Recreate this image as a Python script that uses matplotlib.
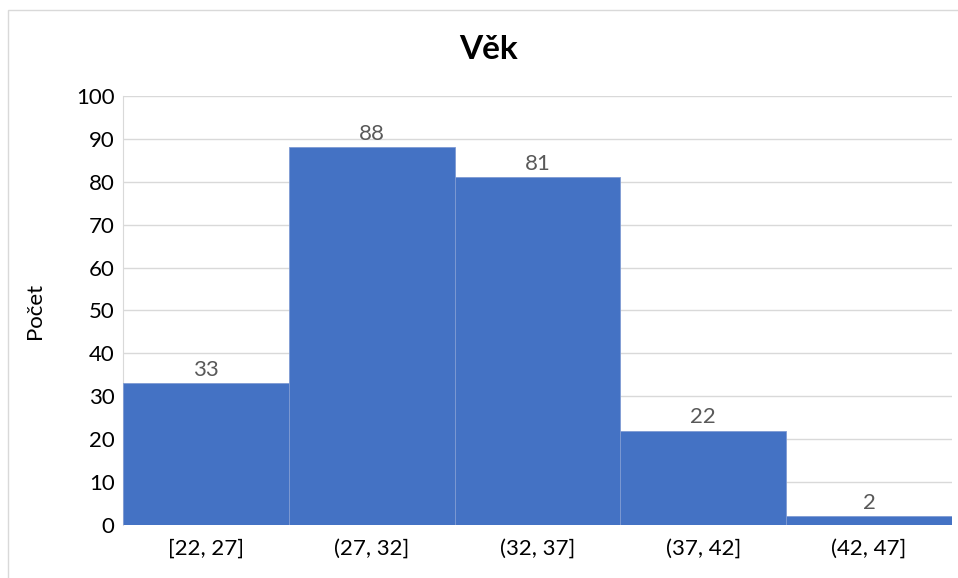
import matplotlib.pyplot as plt
from matplotlib.patches import Rectangle

categories = ['[22, 27]', '(27, 32]', '(32, 37]', '(37, 42]', '(42, 47]']
counts = [33, 88, 81, 22, 2]

plt.rcParams['font.family'] = ['Lato', 'DejaVu Sans']

fig = plt.figure(figsize=(9.58, 5.78), dpi=100)
ax = fig.add_axes([0.1284, 0.0917, 0.8653, 0.7423])

# frame of the chart area
fig.patches.append(Rectangle((8 / 958, -0.05), 1.1, 1 - 10 / 578 + 0.05, transform=fig.transFigure,
                             fill=False, edgecolor='#d9d9d9', linewidth=1))

x = range(len(categories))
bars = ax.bar(x, counts, width=1.0, color='#4472c4', edgecolor='#7f9bd3', linewidth=0.6, zorder=3)
for i, v in enumerate(counts):
    ax.text(i, v + 0.8, str(v), ha='center', va='bottom', fontsize=16, color='#595959')

ax.set_xlim(-0.5, len(categories) - 0.5)
ax.set_ylim(0, 100)
ax.set_yticks(range(0, 101, 10))
ax.set_xticks(list(x))
ax.set_xticklabels(categories)
ax.tick_params(axis='both', length=0, labelsize=16, colors='#000000')
ax.tick_params(axis='x', pad=10)
ax.tick_params(axis='y', pad=6)
ax.grid(axis='y', color='#d9d9d9', linewidth=1, zorder=0)
for s in ['top', 'right', 'bottom']:
    ax.spines[s].set_visible(False)
ax.spines['left'].set_color('#d9d9d9')

ax.set_ylabel('Počet', fontsize=16, labelpad=22)
fig.text(0.51, 0.915, 'Věk', ha='center', va='center', fontsize=24, fontweight='bold')

fig.savefig('out.png', dpi=100)
